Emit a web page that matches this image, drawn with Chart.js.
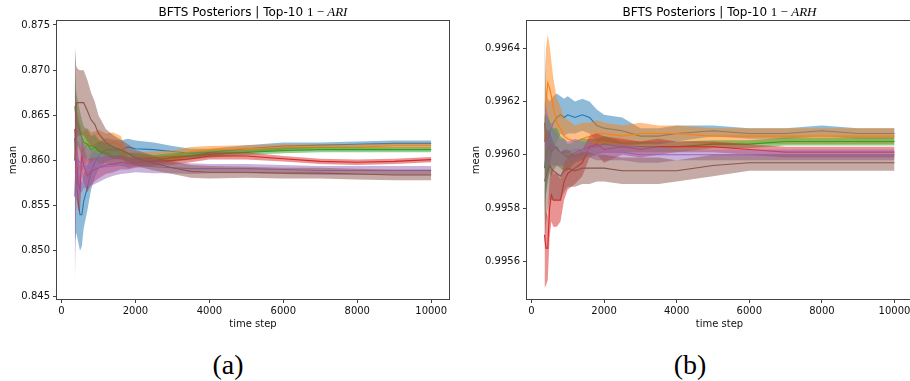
<!DOCTYPE html>
<html>
<head>
<meta charset="utf-8">
<script src="https://cdn.jsdelivr.net/npm/chart.js@4/dist/chart.umd.min.js"></script>
<style>
  html, body { margin: 0; padding: 0; background: #fff; width: 910px; height: 381px; overflow: hidden; position: relative; }
  canvas { position: absolute; top: 0; }
  #cA { left: 0; }
  #cB { left: 460px; }
  .cap { position: absolute; font-family: 'Liberation Serif', serif; font-size: 28px; line-height: 28px; width: 80px; text-align: center; top: 351px; color: #000; }
</style>
</head>
<body>
<canvas id="cA" width="460" height="331" style="width:460px;height:331px"></canvas>
<canvas id="cB" width="460" height="331" style="width:460px;height:331px"></canvas>
<div class="cap" id="capA" style="left:188px"></div>
<div class="cap" id="capB" style="left:650px"></div>
<script>
// ---------- DATA ----------
const timeSteps = [360, 400, 450, 500, 550, 600, 700, 800, 900, 1000, 1200, 1400, 1600, 1800, 2000, 2500, 3000, 3500, 4000, 5000, 6000, 7000, 8000, 9000, 10000];
const xTickValues = [0, 2000, 4000, 6000, 8000, 10000];
const seriesNames = ['run 1', 'run 2', 'run 3', 'run 4', 'run 5', 'run 6'];
const seriesColors = ['#1f77b4', '#ff7f0e', '#2ca02c', '#d62728', '#9467bd', '#8c564b'];
const titleA = ['BFTS Posteriors | Top-10 ', '1 \u2212 ', 'ARI'];
const titleB = ['BFTS Posteriors | Top-10 ', '1 \u2212 ', 'ARH'];
const captions = ['(a)', '(b)'];
const xTicksLabel = 'time step';
const yTicksLabel = 'mean';

// Panel (a): 1 - ARI
const ariBlueMean   = [0.8625,0.8580,0.8555,0.8540,0.8540,0.8555,0.8570,0.8588,0.8598,0.8605,0.8612,0.8612,0.8612,0.8615,0.8613,0.8612,0.8610,0.8608,0.8609,0.8613,0.8616,0.8617,0.8618,0.8619,0.8619];
const ariBlueErr    = [0.0115,0.0060,0.0045,0.0040,0.0035,0.0030,0.0025,0.0020,0.0017,0.0015,0.0013,0.0011,0.0010,0.0009,0.0009,0.0008,0.0006,0.0005,0.0004,0.0004,0.0004,0.0003,0.0003,0.0003,0.0003];
const ariOrangeMean = [0.8600,0.8615,0.8620,0.8615,0.8610,0.8612,0.8618,0.8615,0.8617,0.8620,0.8618,0.8620,0.8617,0.8600,0.8601,0.8603,0.8605,0.8610,0.8612,0.8613,0.8614,0.8615,0.8615,0.8616,0.8616];
const ariOrangeErr  = [0.0060,0.0040,0.0030,0.0025,0.0022,0.0020,0.0018,0.0016,0.0015,0.0014,0.0012,0.0011,0.0010,0.0009,0.0008,0.0007,0.0006,0.0005,0.0004,0.0004,0.0004,0.0003,0.0003,0.0003,0.0003];
const ariGreenMean  = [0.8660,0.8645,0.8640,0.8632,0.8625,0.8620,0.8618,0.8612,0.8615,0.8610,0.8608,0.8605,0.8603,0.8600,0.8601,0.8600,0.8603,0.8605,0.8607,0.8609,0.8611,0.8612,0.8612,0.8612,0.8612];
const ariGreenErr   = [0.0040,0.0030,0.0025,0.0022,0.0020,0.0018,0.0016,0.0015,0.0014,0.0013,0.0011,0.0010,0.0009,0.0008,0.0007,0.0006,0.0005,0.0004,0.0004,0.0003,0.0003,0.0003,0.0003,0.0003,0.0003];
const ariRedMean    = [0.8635,0.8600,0.8575,0.8568,0.8605,0.8595,0.8583,0.8588,0.8590,0.8592,0.8595,0.8596,0.8598,0.8597,0.8598,0.8599,0.8600,0.8602,0.8605,0.8605,0.8602,0.8599,0.8598,0.8599,0.8601];
const ariRedErr     = [0.0050,0.0040,0.0030,0.0025,0.0022,0.0020,0.0018,0.0015,0.0013,0.0012,0.0010,0.0009,0.0008,0.0007,0.0006,0.0005,0.0005,0.0004,0.0004,0.0004,0.0003,0.0003,0.0003,0.0003,0.0003];
const ariPurpleMean = [0.8560,0.8605,0.8600,0.8598,0.8595,0.8594,0.8593,0.8592,0.8592,0.8592,0.8593,0.8594,0.8595,0.8595,0.8595,0.8593,0.8592,0.8591,0.8591,0.8591,0.8590,0.8589,0.8589,0.8589,0.8589];
const ariPurpleErr  = [0.0100,0.0050,0.0040,0.0035,0.0030,0.0025,0.0022,0.0020,0.0018,0.0016,0.0013,0.0011,0.0010,0.0009,0.0008,0.0007,0.0006,0.0006,0.0005,0.0005,0.0005,0.0005,0.0005,0.0005,0.0005];
const ariBrownMean  = [0.8600,0.8664,0.8664,0.8664,0.8664,0.8664,0.8655,0.8645,0.8640,0.8630,0.8620,0.8615,0.8612,0.8608,0.8603,0.8597,0.8592,0.8588,0.8587,0.8587,0.8586,0.8586,0.8585,0.8584,0.8584];
const ariBrownErr   = [0.0125,0.0040,0.0037,0.0036,0.0036,0.0036,0.0034,0.0030,0.0025,0.0020,0.0015,0.0013,0.0011,0.0010,0.0009,0.0008,0.0007,0.0007,0.0007,0.0006,0.0006,0.0006,0.0006,0.0006,0.0006];

// Panel (b): 1 - ARH
const arhBlueMean   = [0.99612,0.99605,0.99606,0.99608,0.99610,0.99612,0.99614,0.99615,0.99614,0.99615,0.99614,0.99615,0.99614,0.99611,0.99610,0.99609,0.99607,0.99607,0.99608,0.99609,0.99608,0.99608,0.99609,0.99608,0.99608];
const arhBlueErr    = [0.00033,0.00020,0.00015,0.00012,0.00011,0.00010,0.00009,0.00007,0.00007,0.00007,0.00006,0.00006,0.00006,0.00006,0.00005,0.00005,0.00003,0.00003,0.00003,0.00002,0.00002,0.00002,0.00002,0.00002,0.00002];
const arhOrangeMean = [0.99605,0.99620,0.99627,0.99625,0.99622,0.99618,0.99612,0.99610,0.99607,0.99606,0.99605,0.99606,0.99607,0.99608,0.99608,0.99607,0.99608,0.99608,0.99608,0.99607,0.99607,0.99607,0.99607,0.99607,0.99607];
const arhOrangeErr  = [0.00015,0.00020,0.00018,0.00016,0.00013,0.00011,0.00009,0.00008,0.00007,0.00007,0.00006,0.00006,0.00005,0.00005,0.00004,0.00004,0.00004,0.00003,0.00003,0.00003,0.00003,0.00003,0.00003,0.00003,0.00003];
const arhGreenMean  = [0.99595,0.99600,0.99602,0.99603,0.99601,0.99602,0.99603,0.99601,0.99600,0.99599,0.99601,0.99602,0.99603,0.99603,0.99604,0.99603,0.99603,0.99603,0.99603,0.99604,0.99604,0.99605,0.99605,0.99605,0.99605];
const arhGreenErr   = [0.00020,0.00015,0.00012,0.00010,0.00009,0.00008,0.00007,0.00006,0.00006,0.00005,0.00004,0.00004,0.00003,0.00003,0.00003,0.00002,0.00002,0.00002,0.00002,0.000015,0.000015,0.000015,0.000015,0.000015,0.000015];
const arhRedMean    = [0.99570,0.99565,0.99565,0.99580,0.99585,0.99583,0.99583,0.99583,0.99590,0.99593,0.99595,0.99597,0.99603,0.99604,0.99602,0.99603,0.99602,0.99603,0.99603,0.99603,0.99602,0.99601,0.99601,0.99601,0.99601];
const arhRedErr     = [0.00020,0.00014,0.00012,0.00011,0.00010,0.00010,0.00010,0.00008,0.00007,0.00006,0.00006,0.00005,0.00004,0.00004,0.00005,0.00003,0.00003,0.00003,0.00002,0.00002,0.00002,0.00002,0.00002,0.00002,0.00002];
const arhPurpleMean = [0.99605,0.99606,0.99605,0.99603,0.99604,0.99603,0.99602,0.99601,0.99601,0.99601,0.99602,0.99602,0.99602,0.99601,0.99601,0.99601,0.99600,0.99600,0.99600,0.99600,0.99600,0.99600,0.99600,0.99600,0.99600];
const arhPurpleErr  = [0.00015,0.00012,0.00010,0.00009,0.00008,0.00007,0.00006,0.00005,0.00005,0.00004,0.00004,0.00003,0.00003,0.00003,0.00003,0.00003,0.00003,0.00003,0.00002,0.00002,0.00002,0.00002,0.00002,0.00002,0.00002];
const arhBrownMean  = [0.99590,0.99592,0.99594,0.99596,0.99595,0.99594,0.99593,0.99592,0.99594,0.99595,0.99594,0.99595,0.99595,0.99595,0.99595,0.99594,0.99594,0.99594,0.99594,0.99596,0.99597,0.99597,0.99597,0.99597,0.99597];
const arhBrownErr   = [0.00025,0.00018,0.00015,0.00013,0.00012,0.00011,0.00010,0.00009,0.00008,0.00007,0.00006,0.00006,0.00006,0.00005,0.00005,0.00005,0.00005,0.00005,0.00004,0.00004,0.00003,0.00003,0.00003,0.00003,0.00003];

const ariYTicks = {min: 0.84467, max: 0.87544, step: 0.005, digits: 3};
const arhYTicks = {min: 0.995459, max: 0.996502, step: 0.0002, digits: 4};

// ---------- BUILD ----------
function hexA(hex, a) {
  const n = parseInt(hex.slice(1), 16);
  return `rgba(${(n >> 16) & 255},${(n >> 8) & 255},${n & 255},${a})`;
}

function buildDatasets(means, errs) {
  const ds = [];
  means.forEach((m, k) => {
    const e = errs[k];
    const col = seriesColors[k];
    const base = 100 - 10 * k;
    ds.push({
      label: seriesNames[k] + ' upper',
      data: timeSteps.map((t, i) => ({x: t, y: m[i] + e[i]})),
      borderWidth: 0, pointRadius: 0, borderColor: 'rgba(0,0,0,0)',
      backgroundColor: hexA(col, 0.5),
      fill: '+1', order: base, tension: 0
    });
    ds.push({
      label: seriesNames[k] + ' lower',
      data: timeSteps.map((t, i) => ({x: t, y: m[i] - e[i]})),
      borderWidth: 0, pointRadius: 0, borderColor: 'rgba(0,0,0,0)',
      fill: false, order: base, tension: 0
    });
    ds.push({
      label: seriesNames[k],
      data: timeSteps.map((t, i) => ({x: t, y: m[i]})),
      borderWidth: 1.1, pointRadius: 0, borderColor: col,
      fill: false, order: base - 5, tension: 0
    });
  });
  return ds;
}

const framePlugin = {
  id: 'frameTitle',
  afterDraw(chart, args, opts) {
    const {ctx, chartArea: a} = chart;
    ctx.save();
    ctx.strokeStyle = '#444';
    ctx.lineWidth = 1;
    ctx.strokeRect(Math.round(a.left) - 0.5, Math.round(a.top) - 0.5, Math.round(a.right - a.left) + 1, Math.round(a.bottom - a.top) + 1);
    const parts = opts.parts || [];
    const fonts = ["12px 'DejaVu Sans'", "13px 'Liberation Serif'", "italic 13px 'Liberation Serif'"];
    let widths = parts.map((p, i) => { ctx.font = fonts[i]; return ctx.measureText(p).width; });
    const total = widths.reduce((s, w) => s + w, 0);
    let x = (a.left + a.right) / 2 - total / 2;
    ctx.fillStyle = '#000';
    ctx.textBaseline = 'alphabetic';
    ctx.textAlign = 'left';
    parts.forEach((p, i) => { ctx.font = fonts[i]; ctx.fillText(p, x, 15.5); x += widths[i]; });
    ctx.restore();
  }
};

Chart.defaults.font.family = "'DejaVu Sans'";
Chart.defaults.font.size = 10;
Chart.defaults.color = '#111';

function makeChart(id, means, errs, yt, titleParts, yAxisWidth, yTitlePad, padRight) {
  const xPad = 0.05 * (timeSteps[timeSteps.length - 1] - timeSteps[0]);
  return new Chart(document.getElementById(id), {
    type: 'line',
    data: {datasets: buildDatasets(means, errs)},
    options: {
      responsive: false, animation: false,
      layout: {padding: {top: 21, right: padRight, left: 0, bottom: 0}},
      plugins: {legend: {display: false}, tooltip: {enabled: false}, title: {display: false}, frameTitle: {parts: titleParts}},
      scales: {
        x: {
          type: 'linear', min: timeSteps[0] - xPad, max: timeSteps[timeSteps.length - 1] + xPad,
          grid: {display: true, drawOnChartArea: false, drawTicks: true, tickLength: 4, color: '#444'},
          border: {display: false},
          afterBuildTicks: s => { s.ticks = xTickValues.map(v => ({value: v})); },
          ticks: {padding: 2, maxRotation: 0, autoSkip: false, color: '#111',
                  callback: v => String(Math.round(v))},
          title: {display: true, text: xTicksLabel, padding: {top: 0, bottom: 1}, color: '#111'},
          afterFit: s => { s.height = 32; }
        },
        y: {
          type: 'linear', min: yt.min, max: yt.max,
          grid: {display: true, drawOnChartArea: false, drawTicks: true, tickLength: 4, color: '#444'},
          border: {display: false},
          ticks: {stepSize: yt.step, includeBounds: false, padding: 3, color: '#111',
                  callback: v => Number(v).toFixed(yt.digits)},
          title: {display: true, text: yTicksLabel, padding: {top: yTitlePad, bottom: 0}, color: '#111'},
          afterFit: s => { s.width = yAxisWidth; }
        }
      }
    },
    plugins: [framePlugin]
  });
}

makeChart('cA',
  [ariBlueMean, ariOrangeMean, ariGreenMean, ariRedMean, ariPurpleMean, ariBrownMean],
  [ariBlueErr, ariOrangeErr, ariGreenErr, ariRedErr, ariPurpleErr, ariBrownErr],
  ariYTicks, titleA, 57, 7, 11);
makeChart('cB',
  [arhBlueMean, arhOrangeMean, arhGreenMean, arhRedMean, arhPurpleMean, arhBrownMean],
  [arhBlueErr, arhOrangeErr, arhGreenErr, arhRedErr, arhPurpleErr, arhBrownErr],
  arhYTicks, titleB, 67, 10, 8);

document.getElementById('capA').textContent = captions[0];
document.getElementById('capB').textContent = captions[1];
</script>
</body>
</html>
